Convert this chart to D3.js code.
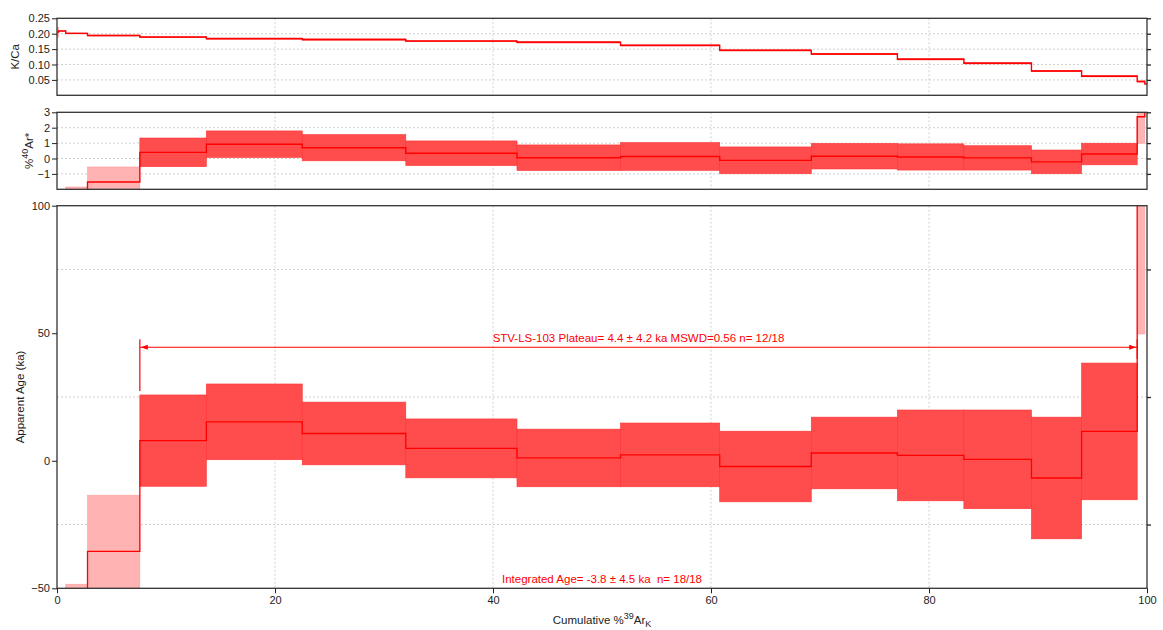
<!DOCTYPE html>
<html><head><meta charset="utf-8">
<script src="https://cdn.jsdelivr.net/npm/d3@7"></script>
<style>
body{margin:0;background:#fff;}
svg{font-family:"Liberation Sans",Arial,sans-serif;}
</style></head>
<body>
<svg id="chart" width="1163" height="630"></svg>
<script>
// ---- data ----
const boundaries = [0, 0.15, 0.8, 2.8, 7.6, 13.7, 22.5, 32.0, 42.2, 51.7, 60.8, 69.2, 77.1, 83.2, 89.4, 94.0, 99.1, 99.8, 100];
const kca    = [0.205, 0.209, 0.201, 0.194, 0.189, 0.184, 0.181, 0.176, 0.172, 0.162, 0.146, 0.134, 0.117, 0.104, 0.079, 0.062, 0.045, 0.037];
const kcaErr = [0.016, 0.002, 0.002, 0.002, 0.002, 0.002, 0.002, 0.002, 0.002, 0.002, 0.002, 0.002, 0.002, 0.002, 0.002, 0.002, 0.003, 0.003];
const ar40    = [-20, -8, -3.0, -1.53, 0.40, 0.93, 0.70, 0.34, 0.05, 0.13, -0.12, 0.15, 0.10, 0.04, -0.22, 0.29, 2.71, 8];
const ar40Err = [4, 2, 1.15, 0.98, 0.93, 0.86, 0.85, 0.80, 0.83, 0.90, 0.87, 0.83, 0.85, 0.79, 0.77, 0.70, 1.72, 2];
const ages    = [-600, -300, -120, -35.5, 7.9, 15.25, 10.7, 4.85, 1.1, 2.3, -2.25, 3.05, 2.1, 0.55, -6.75, 11.5, 150, 400];
const ageErr  = [200, 100, 71.6, 22, 17.9, 14.85, 12.3, 11.55, 11.3, 12.5, 13.85, 14.05, 17.8, 19.35, 23.85, 26.8, 100.3, 150];
const inPlateau = [0,0,0,0,1,1,1,1,1,1,1,1,1,1,1,1,0,0];
const plateauArrowAge = 44.5;
const plateauText = "STV-LS-103 Plateau= 4.4 \u00b1 4.2 ka MSWD=0.56 n= 12/18";
const integratedText = "Integrated Age= -3.8 \u00b1 4.5 ka  n= 18/18";
const xTicks = [0, 20, 40, 60, 80, 100];
const xGrid = [20, 40, 60, 80];
const kcaTicks = [0.05, 0.10, 0.15, 0.20, 0.25];
const kcaGrid = [0.05, 0.10, 0.15, 0.20];
const arTicks = [-1, 0, 1, 2, 3];
const arGrid = [-1, 0, 1, 2];
const ageTicks = [-50, 0, 50, 100];
const ageRightTicks = [-25, 25, 75];

// ---- layout ----
const svg = d3.select("#chart");
const L = 57, R = 1147;
const x = d3.scaleLinear().domain([0, 100]).range([L, R]);
const steps = ages.map((a, i) => ({i, x0: boundaries[i], x1: boundaries[i+1]}));

const RED = "#ff0000", PLAT = "#ff4d4d", PINK = "#ffb3b3";
const FRAME = "#333";

function panel(id, top, bottom, domain) {
  const y = d3.scaleLinear().domain(domain).range([bottom, top]);
  svg.append("clipPath").attr("id", id).append("rect")
     .attr("x", L).attr("y", top).attr("width", R - L).attr("height", bottom - top);
  const g = svg.append("g");
  return {y, g, top, bottom, clip: `url(#${id})`};
}
function grid(p, yGridVals) {
  const gg = p.g.append("g").attr("stroke", "#d0d0d0").attr("stroke-width", 1).attr("stroke-dasharray", "2,2");
  xGrid.forEach(v => gg.append("line").attr("x1", x(v)).attr("x2", x(v)).attr("y1", p.top).attr("y2", p.bottom));
  yGridVals.forEach(v => gg.append("line").attr("x1", L).attr("x2", R).attr("y1", p.y(v)).attr("y2", p.y(v)));
}
function frame(p) {
  p.g.append("rect").attr("x", L).attr("y", p.top).attr("width", R - L).attr("height", p.bottom - p.top)
    .attr("fill", "none").attr("stroke", FRAME).attr("stroke-width", 1.3);
}
function yAxes(p, ticks, fmt, rightTicks) {
  const la = p.g.append("g").attr("transform", `translate(${L},0)`)
    .call(d3.axisLeft(p.y).tickValues(ticks).tickFormat(fmt).tickSize(5).tickPadding(2));
  la.select(".domain").remove();
  la.selectAll("text").attr("font-size", 11).attr("fill", "#222").style("font-family", "Liberation Sans, Arial, sans-serif");
  la.selectAll("line").attr("stroke", "#222");
  const ra = p.g.append("g").attr("transform", `translate(${R},0)`)
    .call(d3.axisRight(p.y).tickValues(rightTicks).tickFormat("").tickSize(4));
  ra.select(".domain").remove();
  ra.selectAll("line").attr("stroke", "#222").attr("stroke-width", 1.3);
}
function stepLine(p, vals, color, w) {
  const pts = [];
  steps.forEach(s => { pts.push([s.x0, vals[s.i]]); pts.push([s.x1, vals[s.i]]); });
  const line = d3.line().x(d => x(d[0])).y(d => Math.max(-5000, Math.min(5000, p.y(d[1]))));
  p.g.append("path").attr("clip-path", p.clip).attr("d", line(pts))
    .attr("fill", "none").attr("stroke", color).attr("stroke-width", w);
}
function boxes(p, vals, errs) {
  p.g.append("g").attr("clip-path", p.clip).selectAll("rect").data(steps).join("rect")
    .attr("x", s => x(s.x0)).attr("width", s => x(s.x1) - x(s.x0))
    .attr("y", s => Math.max(p.top - 10, p.y(vals[s.i] + errs[s.i])))
    .attr("height", s => {
      const yt = Math.max(p.top - 10, p.y(vals[s.i] + errs[s.i]));
      const yb = Math.min(p.bottom + 10, p.y(vals[s.i] - errs[s.i]));
      return Math.max(0, yb - yt);
    })
    .attr("fill", s => inPlateau[s.i] ? PLAT : PINK)
    .attr("stroke", s => inPlateau[s.i] ? "#ff3333" : "#ffa0a0").attr("stroke-width", 0.6);
}

// ---- top panel: K/Ca ----
const pK = panel("clipK", 18.3, 95.3, [0, 0.25]);
grid(pK, kcaGrid);
boxes(pK, kca, kcaErr);
stepLine(pK, kca, RED, 1.4);
frame(pK);
yAxes(pK, kcaTicks, d3.format(".2f"), kcaTicks);

// ---- middle panel: %40Ar* ----
const pA = panel("clipA", 112.3, 189.3, [-2, 3]);
grid(pA, arGrid);
boxes(pA, ar40, ar40Err);
stepLine(pA, ar40, RED, 1.4);
frame(pA);
yAxes(pA, arTicks, d3.format("d"), arTicks);

// ---- main panel: Age ----
const pM = panel("clipM", 205.7, 588.3, [-50, 100]);
grid(pM, ageRightTicks);
boxes(pM, ages, ageErr);
stepLine(pM, ages, RED, 1.3);
frame(pM);
yAxes(pM, ageTicks, d3.format("d"), ageRightTicks);

const xa = svg.append("g").attr("transform", `translate(0,${pM.bottom})`)
  .call(d3.axisBottom(x).tickValues(xTicks).tickFormat(d3.format("d")).tickSize(5).tickPadding(3));
xa.select(".domain").remove();
xa.selectAll("text").attr("font-size", 11).attr("fill", "#222").style("font-family", "Liberation Sans, Arial, sans-serif");
xa.selectAll("line").attr("stroke", "#222");

// plateau arrow
const plStart = boundaries[inPlateau.indexOf(1)];
const plEndIdx = inPlateau.lastIndexOf(1);
const plEnd = boundaries[plEndIdx + 1];
const firstIdx = inPlateau.indexOf(1);
const ay = pM.y(plateauArrowAge);
const ag = svg.append("g").attr("stroke", RED).attr("fill", RED);
ag.append("line").attr("x1", x(plStart)).attr("x2", x(plEnd)).attr("y1", ay).attr("y2", ay).attr("stroke-width", 1.2);
ag.append("line").attr("x1", x(plStart)).attr("x2", x(plStart)).attr("y1", ay - 8)
  .attr("y2", pM.y(ages[firstIdx] + ageErr[firstIdx]) - 4).attr("stroke-width", 1.2);
ag.append("line").attr("x1", x(plEnd)).attr("x2", x(plEnd)).attr("y1", ay - 8)
  .attr("y2", pM.y(ages[plEndIdx] + ageErr[plEndIdx]) - 4).attr("stroke-width", 1.2);
ag.append("path").attr("stroke", "none")
  .attr("d", `M${x(plStart)+1},${ay} l7,-2.5 l0,5 z`);
ag.append("path").attr("stroke", "none")
  .attr("d", `M${x(plEnd)-1},${ay} l-7,-2.5 l0,5 z`);
svg.append("text").attr("x", (x(plStart) + x(plEnd)) / 2).attr("y", ay - 5)
  .attr("text-anchor", "middle").attr("font-size", 11.5).attr("fill", RED).text(plateauText);
svg.append("text").attr("x", x(50)).attr("y", pM.bottom - 5).style("white-space", "pre")
  .attr("text-anchor", "middle").attr("font-size", 11.5).attr("fill", RED).text(integratedText);

// axis titles
const xt = svg.append("text").attr("x", x(50)).attr("y", 624).attr("text-anchor", "middle")
  .attr("font-size", 11.5).attr("fill", "#222");
xt.append("tspan").text("Cumulative %");
xt.append("tspan").attr("dy", -5).attr("font-size", 9).text("39");
xt.append("tspan").attr("dy", 5).text("Ar");
xt.append("tspan").attr("dy", 3).attr("font-size", 9).text("K");

svg.append("text").attr("transform", `translate(24,${(pM.top + pM.bottom) / 2}) rotate(-90)`)
  .attr("text-anchor", "middle").attr("font-size", 11.5).attr("fill", "#222").text("Apparent Age (ka)");
svg.append("text").attr("transform", `translate(19,${(pK.top + pK.bottom) / 2}) rotate(-90)`)
  .attr("text-anchor", "middle").attr("font-size", 11.5).attr("fill", "#222").text("K/Ca");
const at = svg.append("text").attr("transform", `translate(33,${(pA.top + pA.bottom) / 2}) rotate(-90)`)
  .attr("text-anchor", "middle").attr("font-size", 11.5).attr("fill", "#222");
at.append("tspan").text("%");
at.append("tspan").attr("dy", -5).attr("font-size", 9).text("40");
at.append("tspan").attr("dy", 5).text("Ar*");
</script>
</body></html>
